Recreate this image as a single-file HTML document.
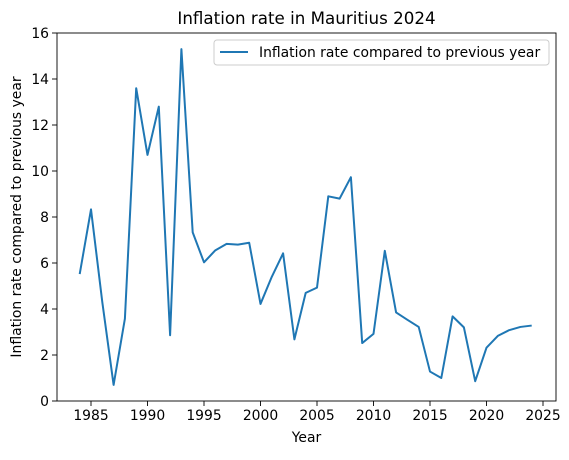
<!DOCTYPE html>
<html><head><meta charset="utf-8"><style>
body{margin:0;background:#fff;font-family:"Liberation Sans","DejaVu Sans",sans-serif;}
svg text{font-family:"DejaVu Sans","Liberation Sans",sans-serif;fill:#000}
</style></head><body>
<svg id="chart" width="569" height="455"></svg>
<script>
const years=[1984,1985,1986,1987,1988,1989,1990,1991,1992,1993,1994,1995,1996,1997,1998,1999,2000,2001,2002,2003,2004,2005,2006,2007,2008,2009,2010,2011,2012,2013,2014,2015,2016,2017,2018,2019,2020,2021,2022,2023,2024];
const values=[5.52,8.33,4.3,0.7,3.58,13.6,10.7,12.8,2.86,15.3,7.33,6.03,6.55,6.83,6.8,6.88,4.22,5.4,6.42,2.68,4.7,4.93,8.9,8.8,9.73,2.52,2.92,6.53,3.85,3.53,3.22,1.28,1.0,3.68,3.2,0.86,2.32,2.83,3.08,3.22,3.28];
const xTicks=[1985,1990,1995,2000,2005,2010,2015,2020,2025];
const yTicks=[0,2,4,6,8,10,12,14,16];
const NS="http://www.w3.org/2000/svg";
const svg=document.getElementById('chart');
const L=57,R=556,T=33,B=401;
const x=v=>91+(v-1985)*(543-91)/40;
const y=v=>B-(v/16)*(B-T);
function mk(t,a,p){const e=document.createElementNS(NS,t);for(const k in a)e.setAttribute(k,a[k]);(p||svg).appendChild(e);return e;}
const frame=mk('rect',{x:L,y:T,width:R-L,height:B-T,fill:'none',stroke:'#000','stroke-width':0.9});


xTicks.forEach(t=>{
 const l=mk('line',{x1:x(t),x2:x(t),y1:B,y2:B+5,stroke:'#000','stroke-width':0.9});
 
 
 const tx=mk('text',{x:x(t),y:B+19,'text-anchor':'middle','font-size':13.9});tx.textContent=t;
 
 
});
yTicks.forEach(t=>{
 const l=mk('line',{x1:L-5,x2:L,y1:y(t),y2:y(t),stroke:'#000','stroke-width':0.9});
 
 
 const tx=mk('text',{x:L-8,y:y(t)+5,'text-anchor':'end','font-size':13.9});tx.textContent=t;
 
 
});
const line=mk('polyline',{points:years.map((yr,i)=>x(yr)+','+y(values[i])).join(' '),fill:'none',stroke:'#1f77b4','stroke-width':2,'stroke-linejoin':'round'});


const title=mk('text',{x:(L+R)/2,y:24,'text-anchor':'middle','font-size':16.7});title.textContent='Inflation rate in Mauritius 2024';


const xt=mk('text',{x:(L+R)/2,y:442,'text-anchor':'middle','font-size':13.9});xt.textContent='Year';


const yt=mk('text',{x:0,y:0,'text-anchor':'middle','font-size':13.9,transform:`translate(21,${(T+B)/2}) rotate(-90)`});yt.textContent='Inflation rate compared to previous year';


const lg=mk('g',{});


mk('rect',{x:214,y:40,width:335,height:25,fill:'#fff',stroke:'#ccc','stroke-width':1,rx:3},lg);
mk('line',{x1:220,x2:248,y1:52,y2:52,stroke:'#1f77b4','stroke-width':2},lg);
const lt=mk('text',{x:259,y:57,'font-size':13.9},lg);lt.textContent='Inflation rate compared to previous year';


</script>
</body></html>
